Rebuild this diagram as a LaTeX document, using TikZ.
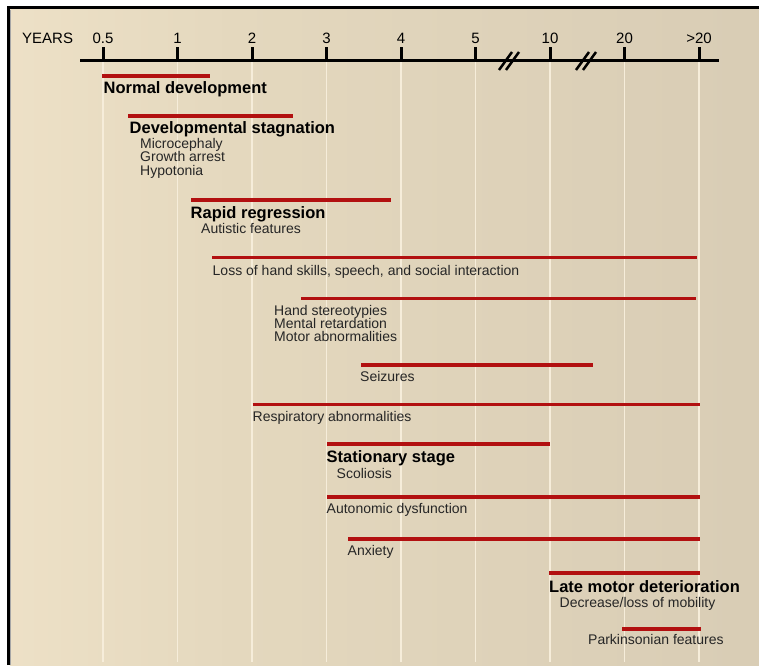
\documentclass[tikz,border=0pt]{standalone}
\usepackage{fontspec}
\setmainfont{Liberation Sans}
\usepackage{tikz}
\usetikzlibrary{positioning}
\definecolor{barred}{RGB}{178,16,16}
\definecolor{gridcol}{RGB}{246,237,218}
\definecolor{bgA}{RGB}{252,242,222}
\definecolor{bgB}{RGB}{243,230,204}
\definecolor{bgC}{RGB}{228,216,190}
\definecolor{bgD}{RGB}{218,206,182}
\definecolor{bgE}{RGB}{210,199,176}
\pgfdeclarehorizontalshading{paper}{100bp}{color(0bp)=(bgA); color(15bp)=(bgB); color(40bp)=(bgC); color(70bp)=(bgD); color(100bp)=(bgE)}

\begin{document}
\begin{tikzpicture}[x=1pt,y=-1pt,
    phase/.style={anchor=base west,inner sep=0pt,font=\bfseries\fontsize{16.5}{18}\selectfont},
    sign/.style={anchor=base west,inner sep=0pt,text=black!85,font=\fontsize{14}{15}\selectfont},
    yr/.style={anchor=base,inner sep=0pt,font=\fontsize{15}{16}\selectfont},
    bar/.style={barred,line width=3.4pt}]
      \useasboundingbox (0,0) rectangle (759,665);
      \fill[white] (0,0) rectangle (759,665);
      \shade[shading=paper] (9.75,8.75) rectangle (759,665);
      \draw[black!35,line width=1pt] (10.5,665) -- (10.5,9.5);
      \draw[line width=2.5pt] (8.5,665) -- (8.5,7.5) -- (759,7.5);
      % time axis
      \foreach \i/\lab in {0/0.5,1/1,2/2,3/3,4/4,5/5,6/10,7/20,8/>20} {
        \draw[gridcol,line width=1.5pt] (103+74.5*\i,60) -- (103+74.5*\i,662);
        \draw[line width=3pt] (103+74.5*\i,47) -- (103+74.5*\i,60);
        \node[yr] (t\i) at (103+74.5*\i,43) {\lab};
      }
      \node[yr,anchor=base west] (years) at (22,43) {YEARS};
      \draw[line width=3pt] (80,60) -- (719,60);
      \foreach \b in {499,576} {
        \draw[line width=2.5pt] (\b,70) -- (\b+13,52);
        \draw[line width=2.5pt] (\b+7,70) -- (\b+20,52);
      }
      % bars
      \foreach \y/\a/\b in {76/102/210, 116/128/293, 200/191/391, 257.5/212/697,
          298.3/301/696, 365/361/593, 404.3/252.5/700, 444/327/550,
          497/327/700, 539/348/700, 573/549/700, 629/622/701}
        \draw[bar] (\a,\y) -- (\b,\y);
      % stages and signs
      \node[phase] (normal) at (103.5,93) {Normal development};
      \node[phase] (stagnation) at (129.5,133) {Developmental stagnation};
      \node[sign] (micro) at (140,148) {Microcephaly};
      \node[sign] (growth) at (140,161.5) {Growth arrest};
      \node[sign] (hypo) at (140,175) {Hypotonia};
      \node[phase] (regression) at (190.5,218) {Rapid regression};
      \node[sign] (autistic) at (201,233) {Autistic features};
      \node[sign] (loss) at (212.5,275) {Loss of hand skills, speech, and social interaction};
      \node[sign] (hand) at (274,315) {Hand stereotypies};
      \node[sign] (mental) at (274,328) {Mental retardation};
      \node[sign] (motor) at (274,341) {Motor abnormalities};
      \node[sign] (seizures) at (360,381.5) {Seizures};
      \node[sign] (resp) at (252.5,421.5) {Respiratory abnormalities};
      \node[phase] (stationary) at (326.5,462) {Stationary stage};
      \node[sign] (scoliosis) at (336.5,478) {Scoliosis};
      \node[sign] (autonomic) at (326.5,513) {Autonomic dysfunction};
      \node[sign] (anxiety) at (347.5,555) {Anxiety};
      \node[phase] (late) at (549,592) {Late motor deterioration};
      \node[sign] (mobility) at (559.5,607) {Decrease/loss of mobility};
      \node[sign] (parkinson) at (588,644) {Parkinsonian features};
    \end{tikzpicture}
\end{document}
